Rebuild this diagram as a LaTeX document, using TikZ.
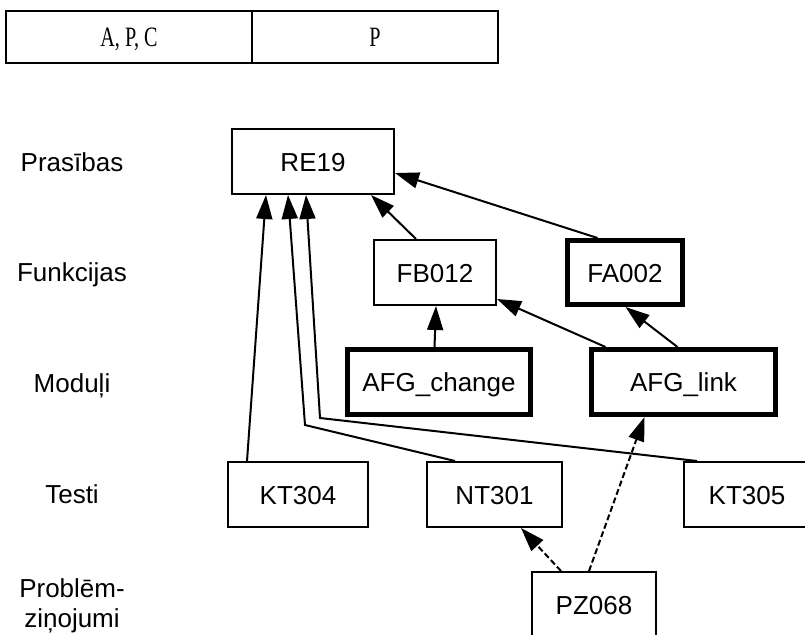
\documentclass[tikz,border=0pt]{standalone}
\usepackage{fontspec}
\usepackage{graphicx}
\setmainfont{Liberation Sans}
\newfontfamily\headfont{Liberation Serif}
\usetikzlibrary{arrows.meta}
\newcommand{\headtext}[1]{\scalebox{0.72}[1]{\headfont\fontsize{28}{30}\selectfont #1}}
\begin{document}
\begin{tikzpicture}[x=1pt,y=-1pt,
  txt/.style={font=\fontsize{26}{30}\selectfont},
  lbl/.style={txt,anchor=base,align=center,inner sep=0pt},
  box/.style={draw,line width=2pt,rectangle,inner sep=0pt,minimum height=65pt,
    txt,text height=19pt,text depth=0pt},
  thickbox/.style={box,line width=5pt},
  arr/.style={line width=2pt,-{Triangle[length=24pt,width=16pt]}},
  darr/.style={arr,dash pattern=on 6pt off 3pt},
  hdr/.style={draw,line width=2pt,rectangle,inner sep=0pt,minimum height=52pt,
    text height=18.5pt,text depth=0pt}]
\useasboundingbox (0,0) rectangle (805,634);
\fill[white] (0,0) rectangle (805,634);

% header table
\node[hdr,minimum width=246pt] (h1) at (129,37) {\headtext{A, P, C}};
\node[hdr,minimum width=246pt] (h2) at (375,37) {\headtext{P}};

% row labels
\node[lbl] (lreq) at (72,171) {Prasības};
\node[lbl] (lfun) at (72,281) {Funkcijas};
\node[lbl] (lmod) at (72,392) {Moduļi};
\node[lbl] (ltst) at (72,503) {Testi};
\node[lbl] (lprb) at (72,627) {Problēm-\\ziņojumi};

% boxes
\node[box,minimum width=162pt] (re) at (313,161.5) {RE19};
\node[box,minimum width=122pt] (fb) at (435,272.5) {FB012};
\node[thickbox,minimum width=115pt,minimum height=64pt] (fa) at (625,272.5) {FA002};
\node[thickbox,minimum width=183pt] (ach) at (439,382) {AFG\_change};
\node[thickbox,minimum width=184pt] (alk) at (683.5,382) {AFG\_link};
\node[box,minimum width=140pt] (kt4) at (298,494.5) {KT304};
\node[box,minimum width=135pt] (nt) at (494.5,494.5) {NT301};
\node[box,minimum width=126pt] (kt5) at (747,494.5) {KT305};
\node[box,minimum width=124pt] (pz) at (594,604.5) {PZ068};

% bend points
\coordinate (bn) at (305,425);
\coordinate (bk) at (320,418);

% connectors
\draw[arr] ([xshift=20pt]kt4.north west) -- ([xshift=35pt]re.south west);
\draw[arr] ([xshift=29pt]nt.north west) -- (bn) -- ([xshift=57pt]re.south west);
\draw[arr] ([xshift=14pt]kt5.north west) -- (bk) -- ([xshift=75pt]re.south west);
\draw[arr] ([xshift=43pt]fb.north west) -- ([xshift=-24pt]re.south east);
\draw[arr] ([xshift=32.5pt]fa.north west) -- ([yshift=-11.5pt]re.east);
\draw[arr] ([xshift=89.5pt]ach.north west) -- ([xshift=63pt]fb.south west);
\draw[arr] ([xshift=16.5pt]alk.north west) -- ([yshift=7pt]fb.south east);
\draw[arr] ([xshift=88.5pt]alk.north west) -- ([xshift=60.5pt]fa.south west);
\draw[darr] ([xshift=30pt]pz.north west) -- ([xshift=95pt]nt.south west);
\draw[darr] ([xshift=58pt]pz.north west) -- ([xshift=55.5pt]alk.south west);
\end{tikzpicture}
\end{document}
